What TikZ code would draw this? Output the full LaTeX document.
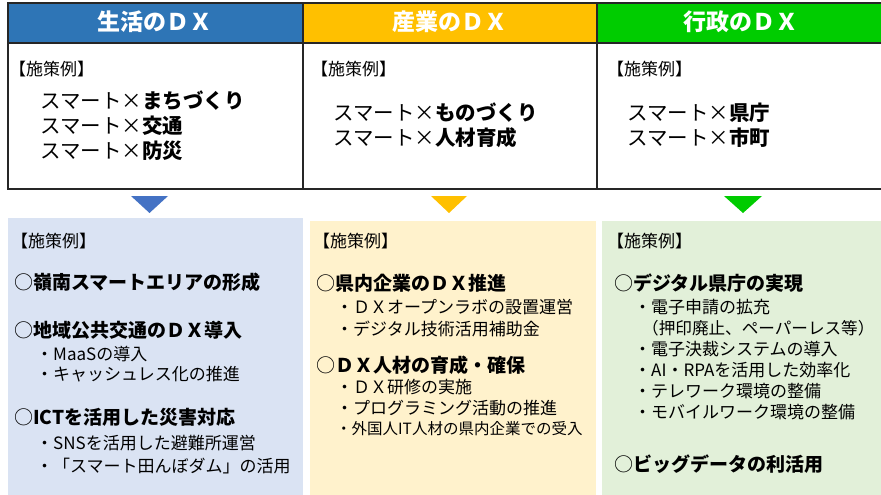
\documentclass[tikz,border=0pt]{standalone}
\usepackage{fontspec}
\setmainfont{Noto Sans CJK JP}
\definecolor{hblue}{HTML}{2E75B6}
\definecolor{hyellow}{HTML}{FFC000}
\definecolor{hgreen}{HTML}{00CC00}
\definecolor{tblue}{HTML}{4472C4}
\definecolor{lblue}{HTML}{DAE3F3}
\definecolor{lyellow}{HTML}{FFF2CC}
\definecolor{lgreen}{HTML}{E2F0D9}
\newcommand{\circmark}{{\mdseries ○}}
\begin{document}
\begin{tikzpicture}[x=1pt,y=-1pt,
  frame/.style={draw=black!85,line width=1.2pt},
  head/.style={inner sep=0pt,text=white,font=\fontsize{23}{23}\selectfont\bfseries},
  lbl/.style={anchor=west,inner sep=0pt,font=\fontsize{17}{17}\selectfont},
  big/.style={anchor=west,inner sep=0pt,font=\fontsize{20.5}{20.5}\selectfont},
  item/.style={anchor=west,inner sep=0pt,font=\fontsize{19}{19}\selectfont\bfseries},
  sub/.style={anchor=west,inner sep=0pt,font=\fontsize{17}{17}\selectfont},
  small/.style={anchor=west,inner sep=0pt,font=\fontsize{15.5}{15.5}\selectfont}]
\useasboundingbox (0,0) rectangle (881,495);
\fill[white] (0,0) rectangle (881,495);
% header cells
\fill[hblue] (8,3) rectangle (303,43);
\fill[hyellow] (303,3) rectangle (597,43);
\fill[hgreen] (597,3) rectangle (885,43);
% frame
\draw[frame] (8,3) rectangle (885,189);
\draw[frame] (8,43) -- (885,43);
\draw[frame] (303,3) -- (303,189);
\draw[frame] (597,3) -- (597,189);
% header texts
\node[head] (h1) at (155,22) {生活のＤＸ};
\node[head] (h2) at (450,22) {産業のＤＸ};
\node[head] (h3) at (741,22) {行政のＤＸ};
% top box texts
\node[lbl] (t1l) at (9,69) {【施策例】};
\node[big] (t1a) at (40,101) {スマート×\textbf{まちづくり}};
\node[big] (t1b) at (40,126) {スマート×\textbf{交通}};
\node[big] (t1c) at (40,151) {スマート×\textbf{防災}};
\node[lbl] (t2l) at (311,69) {【施策例】};
\node[big] (t2a) at (333,113) {スマート×\textbf{ものづくり}};
\node[big] (t2b) at (333,138) {スマート×\textbf{人材育成}};
\node[lbl] (t3l) at (607,69) {【施策例】};
\node[big] (t3a) at (627,113) {スマート×\textbf{県庁}};
\node[big] (t3b) at (627,138) {スマート×\textbf{市町}};
% triangles
\fill[tblue] (131,196) -- (168,196) -- (149.5,213) -- cycle;
\fill[hyellow] (431,196) -- (467,196) -- (449,213) -- cycle;
\fill[hgreen] (724,196) -- (762,196) -- (743,213) -- cycle;
% bottom boxes
\fill[lblue] (8,218) rectangle (303,495);
\fill[lyellow] (310,221) rectangle (596,495);
\fill[lgreen] (602,221) rectangle (885,495);
% bottom box 1
\node[lbl] (b1l) at (11,241) {【施策例】};
\node[item] (b1a) at (14,282) {\circmark 嶺南スマートエリアの形成};
\node[item] (b1b) at (14,330) {\circmark 地域公共交通のＤＸ導入};
\node[sub] (b1b1) at (36,354) {・MaaSの導入};
\node[sub] (b1b2) at (36,374) {・キャッシュレス化の推進};
\node[item] (b1c) at (14,417) {\circmark ICTを活用した災害対応};
\node[sub] (b1c1) at (36,443) {・SNSを活用した避難所運営};
\node[sub] (b1c2) at (36,466) {・「スマート田んぼダム」の活用};
% bottom box 2
\node[lbl] (b2l) at (313,241) {【施策例】};
\node[item] (b2a) at (316,283) {\circmark 県内企業のＤＸ推進};
\node[sub] (b2a1) at (336,307) {・ＤＸオープンラボの設置運営};
\node[sub] (b2a2) at (336,329) {・デジタル技術活用補助金};
\node[item] (b2b) at (316,365) {\circmark ＤＸ人材の育成・確保};
\node[sub] (b2b1) at (336,387) {・ＤＸ研修の実施};
\node[sub] (b2b2) at (336,408) {・プログラミング活動の推進};
\node[small] (b2b3) at (336,429) {・外国人IT人材の県内企業での受入};
% bottom box 3
\node[lbl] (b3l) at (607,241) {【施策例】};
\node[item] (b3a) at (614,283) {\circmark デジタル県庁の実現};
\node[sub] (b3a1) at (634,307) {・電子申請の拡充};
\node[anchor=west,inner sep=0pt,font=\fontsize{16.6}{16.6}\selectfont] (b3a2) at (642,328) {（押印廃止、ペーパーレス等）};
\node[sub] (b3a3) at (634,349) {・電子決裁システムの導入};
\node[sub] (b3a4) at (634,370) {・AI・RPAを活用した効率化};
\node[sub] (b3a5) at (634,391) {・テレワーク環境の整備};
\node[sub] (b3a6) at (634,412) {・モバイルワーク環境の整備};
\node[item] (b3b) at (614,464) {\circmark ビッグデータの利活用};
\end{tikzpicture}
\end{document}
